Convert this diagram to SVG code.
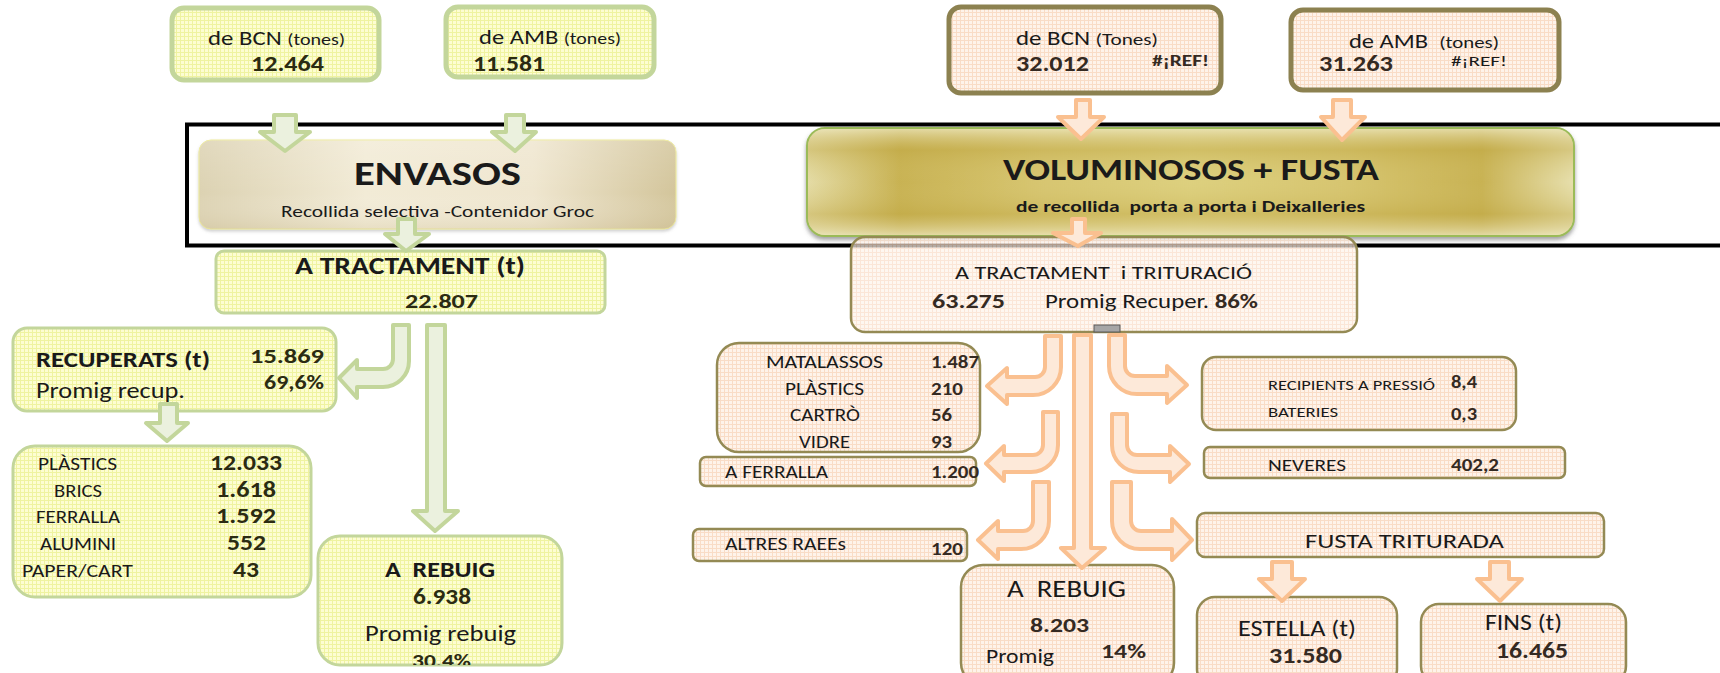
<svg xmlns="http://www.w3.org/2000/svg" width="1720" height="673" viewBox="0 0 1720 673">
<style>
text{font-family:Carlito,"Liberation Sans",Arial,sans-serif;fill:#1a1a1a}
.b{font-weight:bold}
.nl{font-weight:bold;fill:#2b2b12}
.nr{font-weight:bold;fill:#352a22}
.gbox{fill:url(#gridG);stroke:#c3d69b;stroke-width:3}
.gtop{stroke-width:5}
.pbox{fill:url(#gridP);stroke:#948a54;stroke-width:2.5}
.ptop{stroke:#8c8150;stroke-width:5}
.ga{fill:#ebf1de;stroke:#c3d69b;stroke-width:4;stroke-linejoin:round}
.pa{fill:#fde9d9;stroke:#fac090;stroke-width:4;stroke-linejoin:round}
</style>
<defs>
<pattern id="gridG" width="4" height="4" patternUnits="userSpaceOnUse">
<rect width="4" height="4" fill="#fdfdd2"/>
<path d="M0 0.5H4M0.5 0V4" stroke="#eff3a0" stroke-width="1"/>
</pattern>
<pattern id="gridP" width="4" height="4" patternUnits="userSpaceOnUse">
<rect width="4" height="4" fill="#fef3ea"/>
<path d="M0 0.5H4M0.5 0V4" stroke="#f9dcc6" stroke-width="1"/>
</pattern>
<linearGradient id="envG" x1="0" y1="0" x2="1" y2="0">
<stop offset="0" stop-color="#dcd2b2"/>
<stop offset="0.35" stop-color="#f2ebd6"/>
<stop offset="0.7" stop-color="#efe6cf"/>
<stop offset="1" stop-color="#d3c59b"/>
</linearGradient>
<linearGradient id="envV" x1="0" y1="0" x2="0" y2="1">
<stop offset="0" stop-color="#ffffff" stop-opacity="0.15"/>
<stop offset="0.6" stop-color="#ffffff" stop-opacity="0"/>
<stop offset="1" stop-color="#c8b88c" stop-opacity="0.25"/>
</linearGradient>
<linearGradient id="volH" x1="0" y1="0" x2="1" y2="0">
<stop offset="0" stop-color="#e5ddaa"/>
<stop offset="0.12" stop-color="#c6af4e"/>
<stop offset="0.3" stop-color="#d6c46e"/>
<stop offset="0.5" stop-color="#ddd07e"/>
<stop offset="0.7" stop-color="#d6c46e"/>
<stop offset="0.88" stop-color="#c6af4e"/>
<stop offset="1" stop-color="#e8e1b2"/>
</linearGradient>
<linearGradient id="volV" x1="0" y1="0" x2="0" y2="1">
<stop offset="0" stop-color="#ece6bd" stop-opacity="0.75"/>
<stop offset="0.2" stop-color="#c2aa48" stop-opacity="0.45"/>
<stop offset="0.5" stop-color="#dccf82" stop-opacity="0.1"/>
<stop offset="0.8" stop-color="#c2aa48" stop-opacity="0.45"/>
<stop offset="1" stop-color="#ece6bd" stop-opacity="0.75"/>
</linearGradient>
<filter id="sh" x="-5%" y="-10%" width="110%" height="130%">
<feDropShadow dx="0" dy="3" stdDeviation="2" flood-color="#555" flood-opacity="0.55"/>
</filter>
<filter id="sh2" x="-5%" y="-10%" width="110%" height="130%">
<feDropShadow dx="0" dy="2" stdDeviation="1.5" flood-color="#888" flood-opacity="0.4"/>
</filter>
<clipPath id="rebClip"><rect x="318" y="536" width="244" height="129" rx="22"/></clipPath>
</defs>
<rect width="1720" height="673" fill="#fff"/>

<g id="frame">
<rect x="187" y="124.5" width="1600" height="121" fill="none" stroke="#000" stroke-width="4"/>
</g>

<!-- LEFT: ENVASOS -->
<g id="env-bcn">
<rect class="gbox gtop" x="172" y="8" width="207" height="72" rx="12"/>
<text x="208" y="45" font-size="21" textLength="137" lengthAdjust="spacingAndGlyphs">de BCN <tspan font-size="17">(tones)</tspan></text>
<text class="nl" x="251" y="71" font-size="22" textLength="73" lengthAdjust="spacingAndGlyphs">12.464</text>
</g>
<g id="env-amb">
<rect class="gbox gtop" x="446" y="7" width="208" height="70" rx="12"/>
<text x="479" y="44" font-size="21" textLength="142" lengthAdjust="spacingAndGlyphs">de AMB <tspan font-size="17">(tones)</tspan></text>
<text class="nl" x="473" y="71" font-size="22" textLength="72" lengthAdjust="spacingAndGlyphs">11.581</text>
</g>
<g id="envasos">
<rect x="199" y="140" width="477" height="89" rx="12" fill="url(#envG)" stroke="#eeeb9a" stroke-width="1" filter="url(#sh2)"/>
<rect x="199" y="140" width="477" height="89" rx="12" fill="url(#envV)"/>
<text class="b" x="354" y="185" font-size="35" textLength="167" lengthAdjust="spacingAndGlyphs" fill="#000">ENVASOS</text>
<text x="281" y="217" font-size="17" textLength="313" lengthAdjust="spacingAndGlyphs">Recollida selectiva -Contenidor Groc</text>
</g>
<g id="env-tractament">
<rect class="gbox" x="216" y="251" width="389" height="62" rx="8"/>
<text class="b" x="295" y="274" font-size="24" textLength="230" lengthAdjust="spacingAndGlyphs">A TRACTAMENT (t)</text>
<text class="nl" x="405" y="308" font-size="21" textLength="73" lengthAdjust="spacingAndGlyphs">22.807</text>
</g>
<g id="env-recuperats">
<rect class="gbox" x="13" y="328" width="323" height="83" rx="14"/>
<text class="b" x="36" y="367" font-size="22" textLength="174" lengthAdjust="spacingAndGlyphs">RECUPERATS (t)</text>
<text x="36" y="398" font-size="22" textLength="149" lengthAdjust="spacingAndGlyphs">Promig recup.</text>
<text class="nl" x="250" y="363" font-size="21" textLength="74" lengthAdjust="spacingAndGlyphs">15.869</text>
<text class="nl" x="264" y="389" font-size="20" textLength="60" lengthAdjust="spacingAndGlyphs">69,6%</text>
</g>
<g id="env-materials">
<rect class="gbox" x="13" y="446" width="298" height="151" rx="22"/>
<text x="38" y="470" font-size="18" textLength="79" lengthAdjust="spacingAndGlyphs">PLÀSTICS</text>
<text x="54" y="497" font-size="18" textLength="48" lengthAdjust="spacingAndGlyphs">BRICS</text>
<text x="36" y="523" font-size="18" textLength="84" lengthAdjust="spacingAndGlyphs">FERRALLA</text>
<text x="40" y="550" font-size="18" textLength="76" lengthAdjust="spacingAndGlyphs">ALUMINI</text>
<text x="22" y="577" font-size="18" textLength="111" lengthAdjust="spacingAndGlyphs">PAPER/CART</text>
<text class="nl" x="210" y="470" font-size="22" textLength="72" lengthAdjust="spacingAndGlyphs">12.033</text>
<text class="nl" x="216" y="497" font-size="22" textLength="60" lengthAdjust="spacingAndGlyphs">1.618</text>
<text class="nl" x="216" y="523" font-size="22" textLength="60" lengthAdjust="spacingAndGlyphs">1.592</text>
<text class="nl" x="227" y="550" font-size="22" textLength="39" lengthAdjust="spacingAndGlyphs">552</text>
<text class="nl" x="233" y="577" font-size="22" textLength="26" lengthAdjust="spacingAndGlyphs">43</text>
</g>
<g id="env-rebuig">
<rect class="gbox" x="318" y="536" width="244" height="129" rx="22"/>
<text class="b" x="385" y="577" font-size="22" textLength="110" lengthAdjust="spacingAndGlyphs" xml:space="preserve">A  REBUIG</text>
<text class="nl" x="413" y="604" font-size="22" textLength="58" lengthAdjust="spacingAndGlyphs">6.938</text>
<text x="365" y="641" font-size="23" textLength="151" lengthAdjust="spacingAndGlyphs">Promig rebuig</text>
<text class="nl" x="412" y="667" font-size="19" textLength="59" lengthAdjust="spacingAndGlyphs" clip-path="url(#rebClip)">30,4%</text>
</g>

<!-- RIGHT: VOLUMINOSOS -->
<g id="vol-bcn">
<rect class="pbox ptop" x="949" y="7" width="272" height="86" rx="12"/>
<text x="1016" y="45" font-size="20" textLength="142" lengthAdjust="spacingAndGlyphs">de BCN <tspan font-size="17">(Tones)</tspan></text>
<text class="nr" x="1016" y="71" font-size="22" textLength="73" lengthAdjust="spacingAndGlyphs">32.012</text>
<text class="nr" x="1152" y="66" font-size="15" textLength="57" lengthAdjust="spacingAndGlyphs">#¡REF!</text>
</g>
<g id="vol-amb">
<rect class="pbox ptop" x="1291" y="10" width="268" height="80" rx="12"/>
<text x="1349" y="48" font-size="20" textLength="150" lengthAdjust="spacingAndGlyphs" xml:space="preserve">de AMB  <tspan font-size="17">(tones)</tspan></text>
<text class="nr" x="1319" y="71" font-size="22" textLength="74" lengthAdjust="spacingAndGlyphs">31.263</text>
<text x="1451" y="66" font-size="15" textLength="56" lengthAdjust="spacingAndGlyphs" fill="#352a22">#¡REF!</text>
</g>
<g id="voluminosos">
<rect x="807" y="128" width="767" height="108" rx="18" fill="url(#volH)" stroke="#9bbb59" stroke-width="2" filter="url(#sh)"/>
<rect x="808" y="129" width="765" height="106" rx="17" fill="url(#volV)"/>
<text class="b" x="1003" y="180" font-size="31" textLength="376" lengthAdjust="spacingAndGlyphs" fill="#000">VOLUMINOSOS + FUSTA</text>
<text class="b" x="1016" y="212" font-size="16" textLength="349" lengthAdjust="spacingAndGlyphs" xml:space="preserve" fill="#000">de recollida  porta a porta i Deixalleries</text>
</g>
<g id="vol-tractament">
<rect class="pbox" x="851" y="237" width="506" height="95" rx="14" fill-opacity="0.7"/>
<text x="955" y="279" font-size="19" textLength="297" lengthAdjust="spacingAndGlyphs" xml:space="preserve">A TRACTAMENT  i TRITURACIÓ</text>
<text class="nr" x="932" y="308" font-size="21" textLength="73" lengthAdjust="spacingAndGlyphs">63.275</text>
<text x="1045" y="308" font-size="20" textLength="213" lengthAdjust="spacingAndGlyphs">Promig Recuper. <tspan class="nr">86%</tspan></text>
<rect x="1094" y="325" width="26" height="7" fill="#a6a6a6" stroke="#595959" stroke-width="1"/>
</g>
<g id="vol-matalassos">
<rect class="pbox" x="717" y="343" width="263" height="109" rx="22"/>
<text x="766" y="368" font-size="18" textLength="117" lengthAdjust="spacingAndGlyphs">MATALASSOS</text>
<text x="785" y="395" font-size="18" textLength="79" lengthAdjust="spacingAndGlyphs">PLÀSTICS</text>
<text x="790" y="421" font-size="18" textLength="70" lengthAdjust="spacingAndGlyphs">CARTRÒ</text>
<text x="799" y="448" font-size="18" textLength="51" lengthAdjust="spacingAndGlyphs">VIDRE</text>
<text class="nr" x="931" y="368" font-size="18" textLength="48" lengthAdjust="spacingAndGlyphs">1.487</text>
<text class="nr" x="931" y="395" font-size="18" textLength="32" lengthAdjust="spacingAndGlyphs">210</text>
<text class="nr" x="931" y="421" font-size="18" textLength="21" lengthAdjust="spacingAndGlyphs">56</text>
<text class="nr" x="931" y="448" font-size="18" textLength="21" lengthAdjust="spacingAndGlyphs">93</text>
</g>
<g id="vol-ferralla">
<rect class="pbox" x="700" y="457" width="276" height="29" rx="6"/>
<text x="725" y="478" font-size="18" textLength="103" lengthAdjust="spacingAndGlyphs">A FERRALLA</text>
<text class="nr" x="931" y="478" font-size="18" textLength="48" lengthAdjust="spacingAndGlyphs">1.200</text>
</g>
<g id="vol-raees">
<rect class="pbox" x="693" y="529" width="274" height="32" rx="6"/>
<text x="725" y="550" font-size="18" textLength="121" lengthAdjust="spacingAndGlyphs">ALTRES RAEEs</text>
<text class="nr" x="931" y="555" font-size="18" textLength="32" lengthAdjust="spacingAndGlyphs">120</text>
</g>
<g id="vol-rebuig">
<rect class="pbox" x="961" y="565" width="213" height="120" rx="22"/>
<text x="1007" y="597" font-size="25" textLength="119" lengthAdjust="spacingAndGlyphs" xml:space="preserve">A  REBUIG</text>
<text class="nr" x="1030" y="632" font-size="21" textLength="59" lengthAdjust="spacingAndGlyphs">8.203</text>
<text x="986" y="663" font-size="21" textLength="68" lengthAdjust="spacingAndGlyphs">Promig</text>
<text class="nr" x="1101" y="658" font-size="21" textLength="45" lengthAdjust="spacingAndGlyphs">14%</text>
</g>
<g id="vol-recipients">
<rect class="pbox" x="1202" y="357" width="314" height="73" rx="14"/>
<text x="1268" y="390" font-size="15" textLength="167" lengthAdjust="spacingAndGlyphs">RECIPIENTS A PRESSIÓ</text>
<text x="1268" y="417" font-size="15" textLength="70" lengthAdjust="spacingAndGlyphs">BATERIES</text>
<text class="nr" x="1451" y="388" font-size="17" textLength="26" lengthAdjust="spacingAndGlyphs">8,4</text>
<text class="nr" x="1451" y="420" font-size="17" textLength="26" lengthAdjust="spacingAndGlyphs">0,3</text>
</g>
<g id="vol-neveres">
<rect class="pbox" x="1204" y="447" width="361" height="31" rx="6"/>
<text x="1268" y="471" font-size="17" textLength="78" lengthAdjust="spacingAndGlyphs">NEVERES</text>
<text class="nr" x="1451" y="471" font-size="17" textLength="48" lengthAdjust="spacingAndGlyphs">402,2</text>
</g>
<g id="vol-fusta">
<rect class="pbox" x="1197" y="513" width="407" height="44" rx="8"/>
<text x="1305" y="548" font-size="21" textLength="199" lengthAdjust="spacingAndGlyphs">FUSTA TRITURADA</text>
</g>
<g id="vol-estella">
<rect class="pbox" x="1197" y="597" width="200" height="90" rx="18"/>
<text x="1238" y="636" font-size="23" textLength="118" lengthAdjust="spacingAndGlyphs">ESTELLA (t)</text>
<text class="nr" x="1269" y="663" font-size="22" textLength="73" lengthAdjust="spacingAndGlyphs">31.580</text>
</g>
<g id="vol-fins">
<rect class="pbox" x="1421" y="604" width="205" height="80" rx="18"/>
<text x="1485" y="630" font-size="22" textLength="77" lengthAdjust="spacingAndGlyphs">FINS (t)</text>
<text class="nr" x="1496" y="658" font-size="22" textLength="72" lengthAdjust="spacingAndGlyphs">16.465</text>
</g>

<g id="connectors">
<!-- green -->
<path class="ga" d="M274 115H296V132H310L285 151L260 132H274Z"/>
<path class="ga" d="M506 115H524V132H536L515 151L492 132H506Z"/>
<path class="ga" d="M398 219H415V234H429L406 251L385 234H398Z"/>
<path class="ga" d="M160 404H177V423H188L167 441L146 423H160Z"/>
<path class="ga" d="M427 325H445V511H458L435 531L413 511H427Z"/>
<path class="ga" d="M393 325H409V361A26 26 0 0 1 383 387H357V398L339 378L357 360V369H383A10 10 0 0 0 393 359Z"/>
<!-- peach straight -->
<path class="pa" d="M1076 100H1090V117H1104L1081 139L1058 117H1076Z"/>
<path class="pa" d="M1333 100H1351V117H1365L1342 140L1321 117H1333Z"/>
<path class="pa" d="M1072 219H1085V233H1101L1078 246L1053 233H1072Z"/>
<path class="pa" d="M1074 335H1091V548H1105L1082 568L1061 548H1074Z"/>
<path class="pa" d="M1272 562H1292V579H1305L1282 601L1259 579H1272Z"/>
<path class="pa" d="M1490 562H1509V579H1522L1500 601L1477 579H1490Z"/>
<!-- peach curved left -->
<path class="pa" d="M1045 336H1061V367A28 28 0 0 1 1033 395H1007V404L987 386L1007 368V377H1035A10 10 0 0 0 1045 367Z"/>
<path class="pa" d="M1043 412H1058V445A27 27 0 0 1 1031 472H1004V481L986 463.5L1004 446V455H1033A10 10 0 0 0 1043 445Z"/>
<path class="pa" d="M1033 482H1049V521A28 28 0 0 1 1021 549H998V559L978 540L998 521V531H1023A10 10 0 0 0 1033 521Z"/>
<!-- peach curved right -->
<path class="pa" d="M1109 335H1125V366A10 10 0 0 0 1135 376H1167V366L1187 385L1167 403V394H1137A28 28 0 0 1 1109 366Z"/>
<path class="pa" d="M1112 414H1127V445A10 10 0 0 0 1137 455H1170V446L1189 464L1170 482V472H1139A27 27 0 0 1 1112 445Z"/>
<path class="pa" d="M1112 482H1131V521A10 10 0 0 0 1141 531H1172V519L1192 540L1172 560V549H1140A28 28 0 0 1 1112 521Z"/>
</g>
</svg>
